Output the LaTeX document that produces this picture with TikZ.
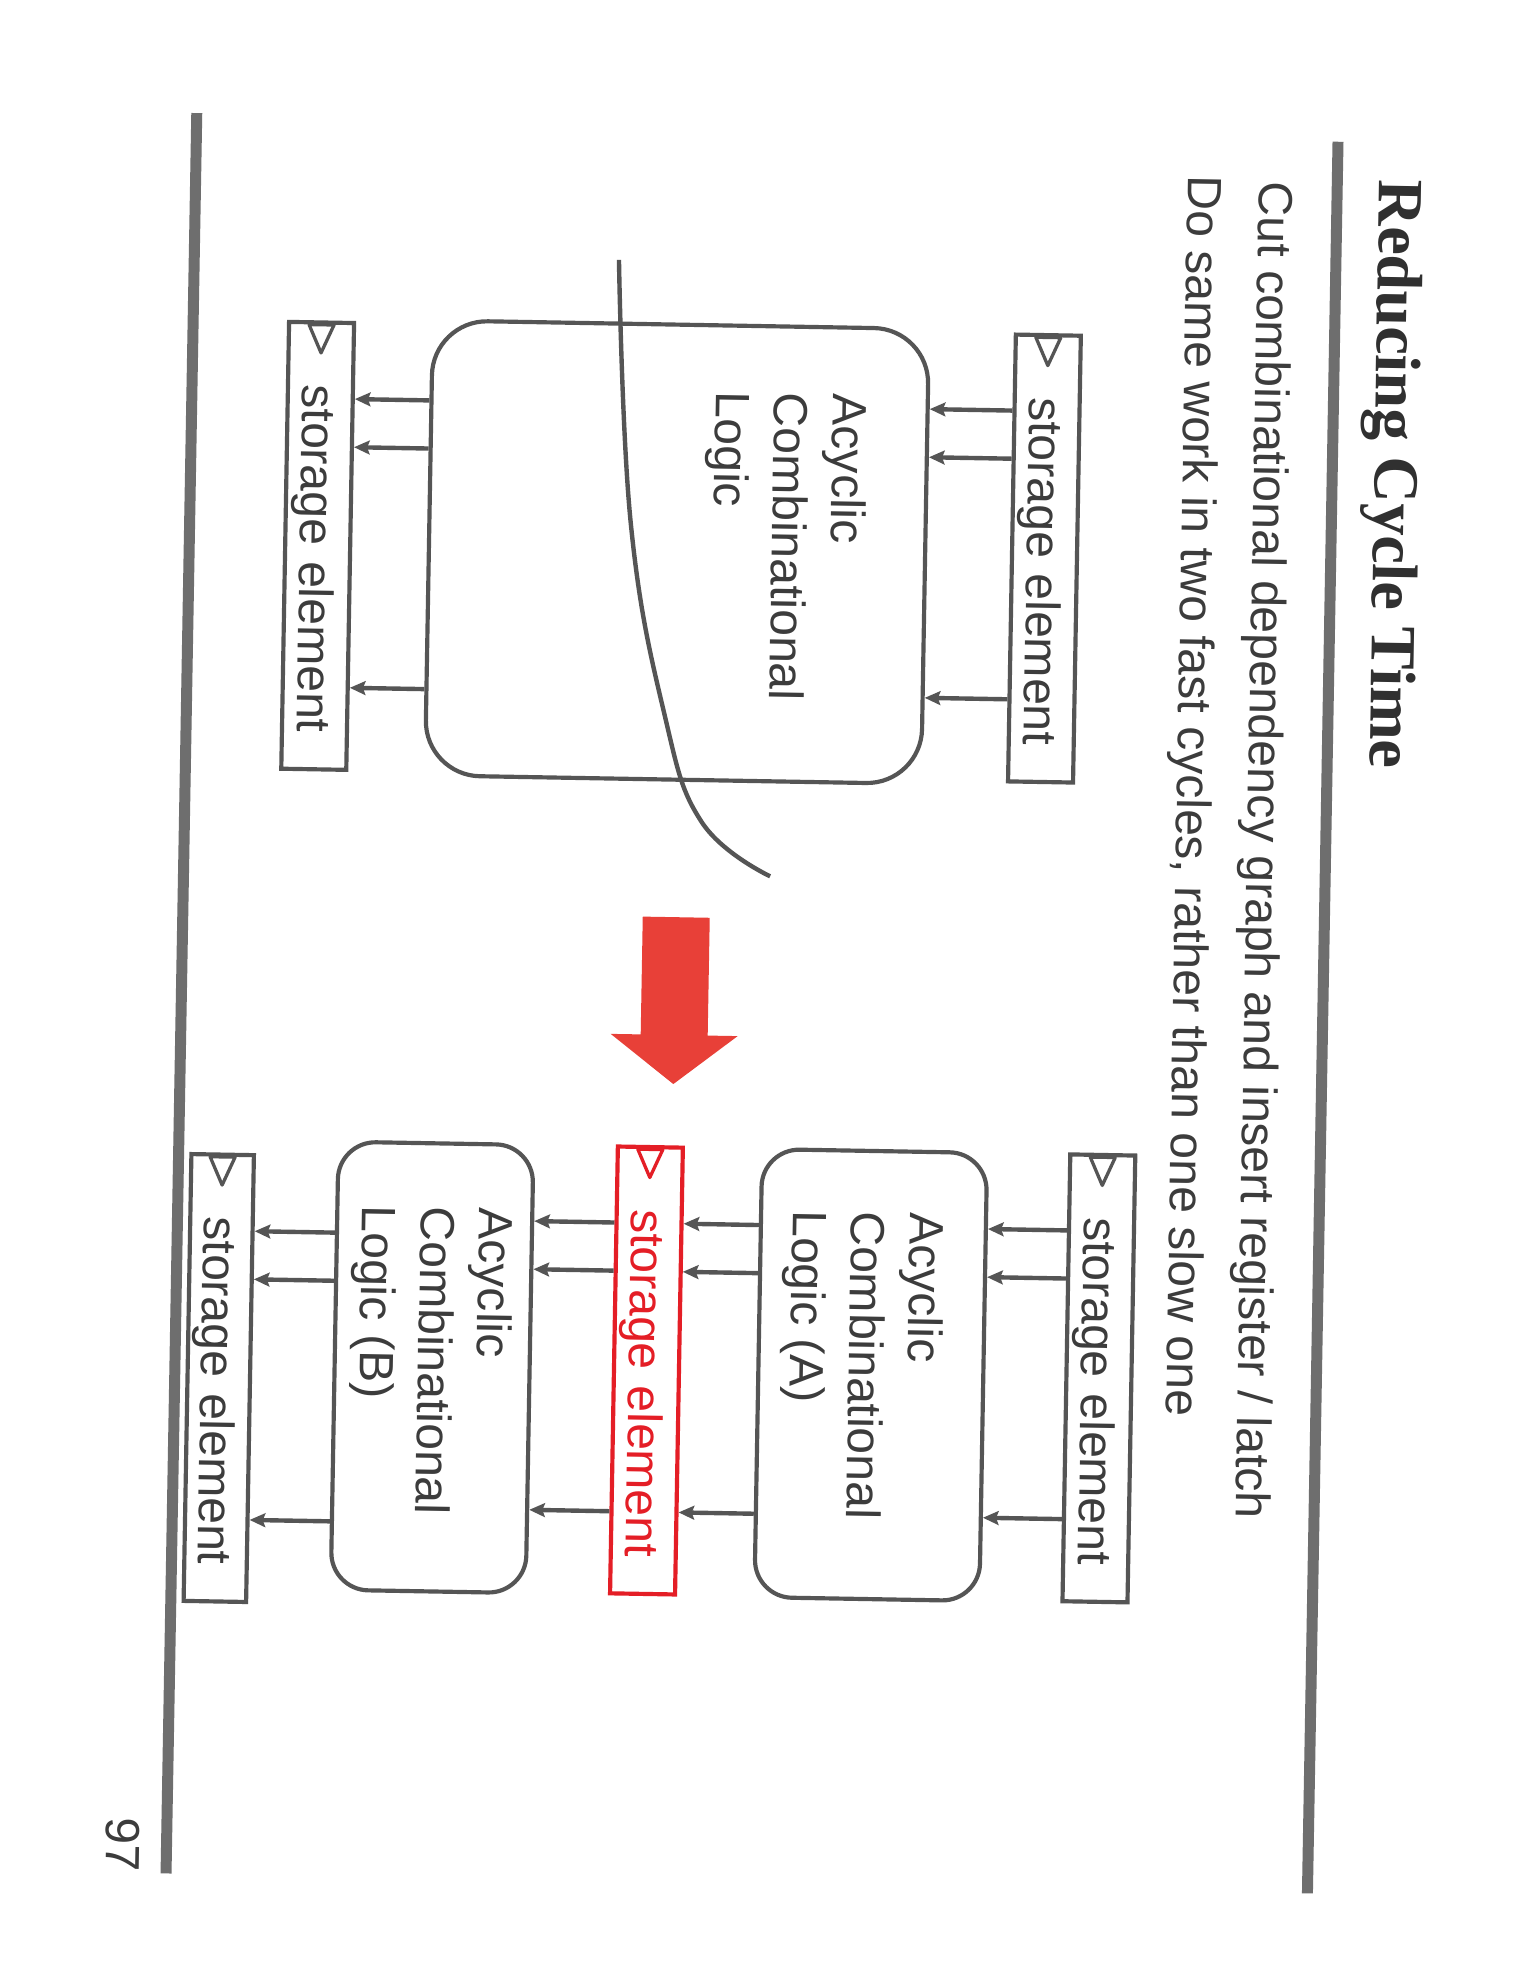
\documentclass[tikz,border=0pt]{standalone}
\usepackage{fontspec}
\setmainfont{Liberation Sans}
\newfontfamily\titlefont{Liberation Serif}
\usepackage{xcolor}
\usepackage{tikz}
\usetikzlibrary{arrows.meta}

\definecolor{linegray}{RGB}{85,85,85}
\definecolor{rulegray}{RGB}{110,110,110}
\definecolor{textgray}{RGB}{60,60,60}
\definecolor{sered}{RGB}{228,30,38}
\definecolor{arrowred}{RGB}{232,64,56}

\newcommand{\slidefont}{\fontsize{21.9}{26.7}\selectfont}

\tikzset{
  sebox/.style={draw=linegray, line width=1.9pt, rotate=-90,
    minimum width=7.15cm, minimum height=1.04cm, inner xsep=1.0cm, inner ysep=0pt,
    text width=5.15cm, text height=0.6cm, text depth=0.04cm, align=left,
    text=textgray, font=\slidefont},
  logicbox/.style={draw=linegray, line width=1.9pt, rotate=-90, rounded corners=0.6cm},
  logictext/.style={rotate=-90, anchor=north west, align=left, inner sep=0pt,
    text=textgray, font=\slidefont},
  wire/.style={draw=linegray, line width=2pt, -{Stealth[length=0.25cm,width=0.22cm,inset=0.04cm]}},
  clock/.style={draw=linegray, line width=1.5pt, line join=round}
}

\begin{document}
\begin{tikzpicture}
\fill[white] (-12.24,-15.84) rectangle (12.24,15.84);
\useasboundingbox (-12.24,-15.84) rectangle (12.24,15.84);

\begin{scope}[rotate=-1.0, transform shape]

% title and rules
\node[rotate=-90, anchor=base west, text=textgray!80!black,
  font=\titlefont\bfseries\fontsize{29.3}{35}\selectfont] (title) at (9.61,13.26) {Reducing Cycle Time};
\node[rotate=-90, anchor=base west, text=textgray, font=\slidefont] (lineA) at (7.68,13.19)
  {Cut combinational dependency graph and insert register / latch};
\node[rotate=-90, anchor=base west, text=textgray, font=\slidefont] (lineB) at (6.54,13.27)
  {Do same work in two fast cycles, rather than one slow one};
\draw[rulegray, line width=5pt] (8.93,13.73)--(8.93,-14.30);
\draw[rulegray, line width=5pt] (-9.335,13.87)--(-9.335,-14.30);
\node[rotate=-90, anchor=base west, text=textgray, font=\slidefont] (page) at (-10.30,-13.30) {97};

% one slow cycle
\node[sebox] (se1) at (4.35,6.98) {\mbox{storage element}};
\node[logicbox, minimum width=7.28cm, minimum height=7.94cm, rounded corners=0.88cm] (l0) at (-1.53,6.98) {};
\node[sebox] (se2) at (-7.28,6.98) {\mbox{storage element}};
\path (l0.north west) ++(-0.98,-1.09) node[logictext] (l0txt) {Acyclic\\Combinational\\Logic};

\draw[linegray, line width=2pt] plot[smooth, tension=0.7] coordinates
  {(-2.54,11.64) (-2.28,7.45) (-1.69,4.40) (-1.06,2.67) (0.05,1.82)};

% red arrow
\fill[arrowred] (-1.976,1.14)--(-0.904,1.14)--(-0.904,-0.745)--(-0.424,-0.745)
  --(-1.44,-1.53)--(-2.456,-0.745)--(-1.976,-0.745)--cycle;

% two fast cycles
\node[sebox] (se3) at (5.45,-6.12) {\mbox{storage element}};
\node[logicbox, minimum width=7.17cm, minimum height=3.6cm] (la) at (1.80,-6.13) {};
\node[sebox, draw=sered, text=sered] (ser) at (-1.79,-6.12) {\mbox{storage element}};
\node[logicbox, minimum width=7.17cm, minimum height=3.12cm] (lb) at (-5.22,-6.13) {};
\node[sebox, minimum height=1.0cm] (seb) at (-8.63,-6.36) {\mbox{storage element}};
\path (la.north west) ++(-0.68,-1.0) node[logictext] (latxt) {Acyclic\\Combinational\\Logic (A)};
\path (lb.north west) ++(-0.31,-1.045) node[logictext] (lbtxt) {Acyclic\\Combinational\\Logic (B)};

% clock marks
\foreach \s in {se1,se2,se3,seb}
  \draw[clock] (\s.west) ++(-0.2,-0.07) -- ++(0.4,0) -- ++(-0.2,-0.45) -- cycle;
\draw[clock, draw=sered] (ser.west) ++(-0.2,-0.07) -- ++(0.4,0) -- ++(-0.2,-0.45) -- cycle;

% wires
\foreach \o in {1.25,2.02,5.87} {
  \path (se1.south west) ++(0,-\o) coordinate (p);
  \draw[wire] (p) -- (p -| l0.north);
  \path (se2.north west) ++(0,-\o) coordinate (p);
  \draw[wire] (p -| l0.south) -- (p);
  \path (se3.south west) ++(0,-\o) coordinate (p);
  \draw[wire] (p) -- (p -| la.north);
  \path (ser.north west) ++(0,-\o) coordinate (p);
  \draw[wire] (p -| la.south) -- (p);
  \path (ser.south west) ++(0,-\o) coordinate (p);
  \draw[wire] (p) -- (p -| lb.north);
  \path (seb.north west) ++(0,-\o) coordinate (p);
  \draw[wire] (p -| lb.south) -- (p);
}

\end{scope}
\end{tikzpicture}
\end{document}
